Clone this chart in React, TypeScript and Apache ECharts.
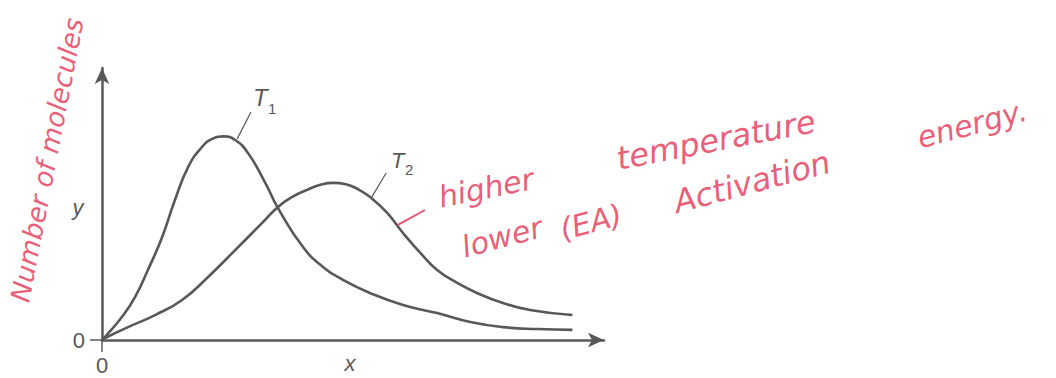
import React, { useEffect, useRef } from "react";
import * as echarts from "echarts";

// Curve T1 (lower temperature): [energy, number of molecules]
const t1Curve: number[][] = [
  [0, 0], [0.6, 1.1], [3.9, 8.2], [6.5, 15.4], [9.0, 25.0], [11.8, 36.8],
  [14.3, 50.0], [16.9, 61.8], [19.6, 68.9], [21.6, 71.8], [23.9, 72.7],
  [26.1, 71.4], [28.6, 66.8], [32.0, 56.1], [34.5, 47.1], [39.4, 33.2], [43.3, 26.1],
  [47.3, 21.4], [52.5, 16.8], [59.0, 12.5], [65.7, 9.6], [72.2, 6.4],
  [78.6, 4.6], [85.3, 3.9], [92.2, 3.6],
];
// Curve T2 (higher temperature)
const t2Curve: number[][] = [
  [0, 0], [0.6, 0.7], [5.1, 4.6], [10.4, 8.9], [15.7, 14.3], [20.8, 22.5],
  [26.1, 32.1], [31.4, 41.8], [34.5, 47.5], [37.5, 51.3], [40.2, 53.6],
  [42.8, 55.4], [45.3, 56.1], [47.8, 55.6], [50.2, 53.8], [52.5, 51.1],
  [55.9, 45.4], [59.0, 38.2], [62.4, 31.1], [65.7, 25.0], [69.6, 20.4],
  [73.5, 16.8], [78.6, 13.2], [83.9, 10.7], [92.2, 8.9],
];
// leader lines [from, to] in data units
const t1Leader: number[][] = [[26.5, 71.8], [29.2, 81.4]];
const t2Leader: number[][] = [[52.9, 51.1], [55.7, 59.6]];
const redTick: number[][] = [[58.0, 41.1], [63.3, 46.4]];
const axisTickValues = [0];
const xMax = 98.4;
const yMax = 97.1;
const xName = "x";
const yName = "y";

const INK = "#585858";
const PEN = "#e8506c";

export default function App() {
  const ref = useRef<HTMLDivElement>(null);
  useEffect(() => {
    if (!ref.current) return;
    const chart = echarts.init(ref.current, undefined, { renderer: "svg" });
    const handText = (text: string, x: number, y: number, rot: number, size: number) => ({
      type: "text",
      x,
      y,
      rotation: rot,
      style: {
        text,
        fill: PEN,
        font: `italic 300 ${size}px "DejaVu Sans", sans-serif`,
        align: "center",
        verticalAlign: "middle",
        opacity: 0.92,
      },
    });
    const axisName = (text: string, x: number, y: number) => ({
      type: "text",
      x,
      y,
      style: {
        text,
        fill: INK,
        font: 'italic 22px "Liberation Sans"',
        align: "center",
        verticalAlign: "middle",
      },
    });
    chart.setOption({
      animation: false,
      backgroundColor: "#ffffff",
      grid: { left: 102, right: 452, top: 68, bottom: 38, containLabel: false, outerBoundsMode: "none" },
      xAxis: {
        type: "value",
        min: 0,
        max: xMax,
        splitLine: { show: false },
        axisLine: {
          show: true,
          symbol: ["none", "arrow"],
          symbolSize: [11, 16],
          lineStyle: { color: INK, width: 2.5 },
        },
        axisTick: { show: true, customValues: axisTickValues, length: 12, lineStyle: { color: INK, width: 1.5 } },
        axisLabel: {
          customValues: axisTickValues,
          color: INK,
          fontSize: 22,
          fontFamily: "Liberation Sans",
          margin: 14,
        },
      },
      yAxis: {
        type: "value",
        min: 0,
        max: yMax,
        splitLine: { show: false },
        axisLine: {
          show: true,
          symbol: ["none", "arrow"],
          symbolSize: [11, 16],
          lineStyle: { color: INK, width: 2.5 },
        },
        axisTick: { show: true, customValues: axisTickValues, length: 12, lineStyle: { color: INK, width: 1.5 } },
        axisLabel: {
          customValues: axisTickValues,
          color: INK,
          fontSize: 22,
          fontFamily: "Liberation Sans",
          margin: 17,
        },
      },
      series: [
        {
          name: "T1",
          type: "line",
          data: t1Curve,
          smooth: 0.5,
          showSymbol: false,
          lineStyle: { color: INK, width: 2.6 },
          markLine: {
            silent: true,
            symbol: ["none", "none"],
            label: { show: false },
            emphasis: { disabled: true },
            lineStyle: { color: INK, width: 1.2, type: "solid" },
            data: [[{ coord: t1Leader[0] }, { coord: t1Leader[1] }]],
          },
        },
        {
          name: "T2",
          type: "line",
          data: t2Curve,
          smooth: 0.5,
          showSymbol: false,
          lineStyle: { color: INK, width: 2.6 },
          markLine: {
            silent: true,
            symbol: ["none", "none"],
            label: { show: false },
            emphasis: { disabled: true },
            lineStyle: { color: INK, width: 1.2, type: "solid" },
            data: [
              [{ coord: t2Leader[0], lineStyle: { color: INK, width: 1.2, type: "solid" } }, { coord: t2Leader[1] }],
              [{ coord: redTick[0], lineStyle: { color: PEN, width: 1.8, type: "solid" } }, { coord: redTick[1] }],
            ],
          },
        },
      ],
      graphic: [
        axisName(xName, 350, 363),
        axisName(yName, 78, 207),
        { type: "text", x: 253, y: 85, style: { text: "T", fill: INK, font: 'italic 24px "Liberation Sans"' } },
        { type: "text", x: 268, y: 101, style: { text: "1", fill: INK, font: '15px "Liberation Sans"' } },
        { type: "text", x: 391, y: 149, style: { text: "T", fill: INK, font: 'italic 22px "Liberation Sans"' } },
        { type: "text", x: 405, y: 162, style: { text: "2", fill: INK, font: '15px "Liberation Sans"' } },
        handText("Number of molecules", 47, 160, 1.38, 27),
        handText("higher", 486, 188, 0.2, 30),
        handText("temperature", 716, 140, 0.19, 32),
        handText("lower", 502, 237, 0.26, 30),
        handText("(EA)", 591, 222, 0.26, 30),
        handText("Activation", 752, 182, 0.26, 32),
        handText("energy.", 972, 124, 0.26, 30),
      ],
    });
    return () => chart.dispose();
  }, []);
  return (
    <div
      ref={ref}
      style={{ position: "fixed", left: 0, top: 0, width: 1056, height: 378 }}
    />
  );
}
